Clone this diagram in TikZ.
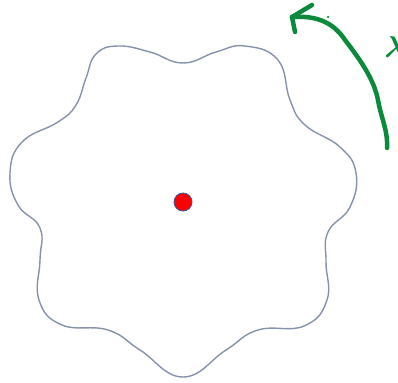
\documentclass[tikz,border=0pt]{standalone}
\usepackage{tikz}
\usepackage{amsmath}
\usetikzlibrary{positioning, calc}
\definecolor{rim}{HTML}{8592AC}
\definecolor{pen}{HTML}{0B8A3C}
\definecolor{dotline}{HTML}{3A55A0}

\begin{document}
\begin{tikzpicture}[x=1pt, y=-1pt,
  rimline/.style={draw=rim, line width=1.4pt},
  stroke/.style={draw=pen, line width=4.5pt, line cap=round, line join=round},
  centre/.style={circle, fill=red, draw=dotline, line width=0.8pt, minimum size=18pt, inner sep=0pt}
]
  \useasboundingbox (0,0) rectangle (398,382);

  % wavy outline
  \draw[rimline] plot[smooth cycle, tension=0.75] coordinates {
    (183,63) (150,52) (118,46) (96,54) (86,78) (76,105) (58,122)
    (22,142) (10,173) (18,205) (40,228) (40,260) (39,300) (62,325)
    (108,330) (140,350) (183,377) (226,350) (258,330)
    (304,326) (327,300) (326,262) (328,232) (350,207) (356,173)
    (340,147) (305,125) (290,100) (278,60) (245,46) (216,52)};

  \node[centre] (c) at (183,202) {};

  % hand-drawn arrow
  \coordinate (tail) at (387,148);
  \coordinate (tip) at (292,17);
  \draw[stroke] (tail) .. controls (388,130) and (381,118) .. (378,100)
    .. controls (374,80) and (362,62) .. (345,40)
    .. controls (335,25) and (320,15) .. (tip);
  \draw[stroke] (tip) -- (312,5);
  \draw[stroke] (tip) -- (295,32);
  \node[circle, fill=pen, inner sep=0pt, minimum size=2.5pt] (spot) at (328,17) {};

  \node[pen, scale=3, anchor=west, inner sep=0pt] (lam) at (384,47) {$\boldsymbol\lambda$};
\end{tikzpicture}
\end{document}
